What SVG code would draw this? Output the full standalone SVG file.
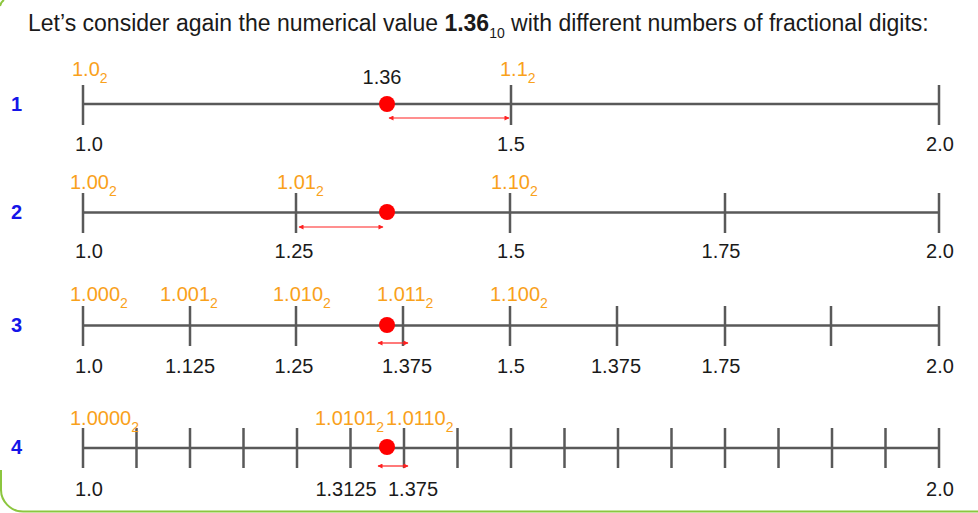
<svg xmlns="http://www.w3.org/2000/svg" width="978" height="513" viewBox="0 0 978 513">
<defs>
<style>
.t{font-family:"Liberation Sans",Arial,sans-serif;font-size:20px;fill:#1a1a1a;text-anchor:middle}
.o{font-family:"Liberation Sans",Arial,sans-serif;font-size:20px;fill:#f9a11b}
.s{font-size:14px}
.n{font-family:"Liberation Sans",Arial,sans-serif;font-size:20px;font-weight:bold;fill:#1515e8}
.ax{stroke:#595959;stroke-width:2.5;fill:none}
.dot{fill:#ff0000}
.ar{stroke:#ff2020;stroke-width:1.2;fill:none;marker-start:url(#ah);marker-end:url(#ah)}
</style>
<marker id="ah" viewBox="0 0 10 10" refX="9" refY="5" markerWidth="6" markerHeight="5" orient="auto-start-reverse" markerUnits="userSpaceOnUse">
<path d="M0,0 L10,5 L0,10 z" fill="#ff2020"/>
</marker>
</defs>
<rect width="978" height="513" fill="#ffffff"/>
<path d="M0,6 Q1,2 4,0" stroke="#8cc63f" stroke-width="2" fill="none"/>
<path d="M1,470 L1,489 A22,22 0 0 0 23,511.5 L978,511.5" stroke="#8cc63f" stroke-width="2" fill="none"/>

<g id="title">
<text x="28" y="31" style="font-family:'Liberation Sans',Arial,sans-serif;font-size:23px;fill:#1a1a1a">Let’s consider again the numerical value <tspan font-weight="bold">1.36</tspan><tspan dy="7" style="font-size:14px">10</tspan><tspan dy="-7"> with different numbers of fractional digits:</tspan></text>
</g>

<g id="row1">
<text class="n" x="11" y="111">1</text>
<path class="ax" d="M83,104 H939 M83,85 V125 M511,85 V125 M939,85 V125"/>
<circle class="dot" cx="387" cy="104" r="8"/>
<text class="t" x="382" y="84">1.36</text>
<text class="o" x="72" y="76">1.0<tspan class="s" dy="7">2</tspan></text>
<text class="o" x="500" y="76">1.1<tspan class="s" dy="7">2</tspan></text>
<text class="t" x="89" y="151">1.0</text>
<text class="t" x="511" y="151">1.5</text>
<text class="t" x="940" y="151">2.0</text>
</g>

<g id="row2">
<text class="n" x="11" y="219">2</text>
<path class="ax" d="M83,212.5 H939 M83,193 V233 M296,193 V233 M510,193 V233 M725,193 V233 M939,193 V233"/>
<circle class="dot" cx="387" cy="212" r="8"/>
<text class="o" x="70" y="189">1.00<tspan class="s" dy="7">2</tspan></text>
<text class="o" x="277" y="189">1.01<tspan class="s" dy="7">2</tspan></text>
<text class="o" x="491" y="189">1.10<tspan class="s" dy="7">2</tspan></text>
<text class="t" x="89" y="258">1.0</text>
<text class="t" x="294" y="258">1.25</text>
<text class="t" x="511" y="258">1.5</text>
<text class="t" x="721" y="258">1.75</text>
<text class="t" x="940" y="258">2.0</text>
</g>

<g id="row3">
<text class="n" x="11" y="332">3</text>
<path class="ax" d="M83,325.5 H939 M83,306 V346 M190,306 V346 M296,306 V346 M403,306 V346 M510,306 V346 M617,306 V346 M725,306 V346 M831,306 V346 M939,306 V346"/>
<circle class="dot" cx="387" cy="325" r="8"/>
<text class="o" x="70" y="301">1.000<tspan class="s" dy="7">2</tspan></text>
<text class="o" x="160" y="301">1.001<tspan class="s" dy="7">2</tspan></text>
<text class="o" x="273" y="301">1.010<tspan class="s" dy="7">2</tspan></text>
<text class="o" x="377" y="301">1.011<tspan class="s" dy="7">2</tspan></text>
<text class="o" x="490" y="301">1.100<tspan class="s" dy="7">2</tspan></text>
<text class="t" x="89" y="373">1.0</text>
<text class="t" x="190" y="373">1.125</text>
<text class="t" x="294" y="373">1.25</text>
<text class="t" x="407" y="373">1.375</text>
<text class="t" x="511" y="373">1.5</text>
<text class="t" x="616" y="373">1.375</text>
<text class="t" x="721" y="373">1.75</text>
<text class="t" x="940" y="373">2.0</text>
</g>

<g id="row4">
<text class="n" x="11" y="454">4</text>
<path class="ax" d="M83,448 H939 M83,428 V468 M136.5,428 V468 M190,428 V468 M243.5,428 V468 M297,428 V468 M350.5,428 V468 M404,428 V468 M457.5,428 V468 M511,428 V468 M564.5,428 V468 M618,428 V468 M671.5,428 V468 M725,428 V468 M778.5,428 V468 M832,428 V468 M885.5,428 V468 M939,428 V468"/>
<circle class="dot" cx="387" cy="447" r="8"/>
<text class="o" x="70" y="425">1.0000<tspan class="s" dy="7">2</tspan></text>
<text class="o" x="315" y="425">1.0101<tspan class="s" dy="7">2</tspan></text>
<text class="o" x="386" y="425">1.0110<tspan class="s" dy="7">2</tspan></text>
<text class="t" x="89" y="496">1.0</text>
<text class="t" x="346" y="496">1.3125</text>
<text class="t" x="413" y="496">1.375</text>
<text class="t" x="940" y="496">2.0</text>
</g>

<g id="connectors">
<path class="ar" d="M389,118 H509"/>
<path class="ar" d="M299,227 H383"/>
<path class="ar" d="M378,343 H408"/>
<path class="ar" d="M378,466 H408"/>
</g>
</svg>
